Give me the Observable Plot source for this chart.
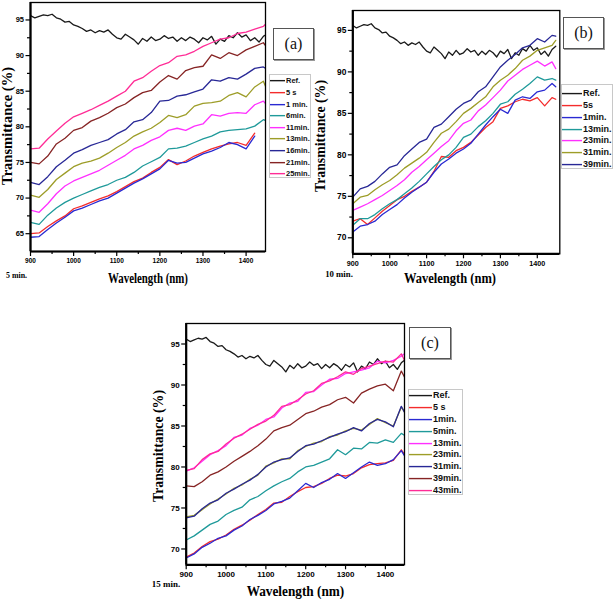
<!DOCTYPE html>
<html><head><meta charset="utf-8">
<script src="https://cdn.jsdelivr.net/npm/d3@7"></script>
<script src="https://cdn.jsdelivr.net/npm/@observablehq/plot@0.6"></script>
<style>
body{margin:0;background:#fff;}
#root{position:relative;width:614px;height:599px;overflow:hidden;background:#fff;}
.panel{position:absolute;}
.legend{position:absolute;background:#fff;border:1px solid #c8c8c8;box-sizing:border-box;font-family:"Liberation Sans",Arial,sans-serif;font-weight:bold;color:#111;}
.legend .row{position:absolute;left:0;white-space:nowrap;}
.tag{position:absolute;background:#fff;border:1px solid #555;box-shadow:1px 1px 0 #999;box-sizing:border-box;font-family:"Liberation Serif","Times New Roman",serif;font-size:16px;display:flex;align-items:center;justify-content:center;color:#111;}
#over{position:absolute;left:0;top:0;pointer-events:none;}
</style></head>
<body><div id="root"></div>
<script>
// ---------- data ----------
const wl = [900,920,940,960,980,1000,1020,1040,1060,1080,1100,1120,1140,1160,1180,1200,1220,1240,1260,1280,1300,1320,1340,1360,1380,1400,1420,1440,1450];
const refWl = [900,910,920,930,940,950,960,970,980,990,1000,1010,1020,1030,1040,1050,1060,1070,1080,1090,1100,1110,1120,1130,1140,1150,1160,1170,1180,1190,1200,1210,1220,1230,1240,1250,1260,1270,1280,1290,1300,1310,1320,1330,1340,1350,1360,1370,1380,1390,1400,1410,1420,1430,1440,1450];
const refT = [95.6,95.3,95.5,95.7,95.6,95.8,95.3,95.1,94.7,94.8,94.3,94.1,93.8,93.4,93.6,93.2,93.5,93.3,93.6,93.0,92.5,92.3,93.0,92.6,92.2,91.6,92.4,92.0,92.6,92.1,92.3,92.8,92.4,92.6,92.0,92.5,92.1,92.6,92.3,91.8,92.5,92.2,92.7,91.6,92.3,92.0,92.8,92.5,93.2,92.6,92.9,92.1,92.5,91.9,92.7,93.1];

// panel (a) — 5 min.
const aLabels = ["Ref.","5 s","1 min.","6min.","11min.","13min.","16min.","21min.","25min."];
const a5s = [65.0,65.1,66.0,66.8,67.5,68.5,68.9,69.4,69.9,70.3,70.9,71.6,72.3,72.8,73.6,74.3,75.4,74.7,75.2,75.9,76.4,76.9,77.3,77.6,77.8,77.4,79.1,null,null];
const a1m = [64.5,64.6,65.6,66.5,67.3,68.2,68.6,69.1,69.6,70.0,70.7,71.4,72.1,72.7,73.4,74.1,75.3,74.9,75.0,75.6,76.2,76.6,77.1,77.8,77.5,76.9,78.7,null,null];
const a6m = [66.6,66.3,67.6,68.6,69.4,70.0,70.5,71.0,71.5,71.9,72.5,72.9,73.6,74.5,75.1,75.7,76.9,77.0,77.3,77.8,78.3,78.7,79.3,79.5,79.6,79.7,80.1,81.0,80.8];
const a11m = [68.3,68.0,69.2,70.6,71.7,72.4,72.9,73.4,73.9,74.6,75.3,76.0,76.9,77.4,78.1,78.6,79.5,79.8,79.5,80.1,80.4,81.7,81.5,81.9,82.0,81.9,83.1,83.6,82.9];
const a13m = [70.4,70.1,71.2,72.6,73.5,74.4,74.9,75.2,75.6,76.3,77.1,77.8,78.7,79.3,79.8,80.6,81.6,81.3,81.7,82.9,83.3,83.4,83.6,84.4,84.8,84.2,85.6,86.4,85.0];
const a16m = [72.2,71.9,73.0,74.4,75.3,76.3,76.8,77.4,77.8,78.2,79.0,79.6,80.7,81.0,82.0,83.6,83.7,84.3,84.5,84.9,85.3,86.6,86.4,86.9,86.7,87.4,88.2,88.4,88.0];
const a21m = [75.0,74.8,75.9,77.6,78.4,79.5,79.9,80.8,81.3,81.9,82.7,83.2,84.1,84.8,85.1,86.3,87.2,86.7,87.9,88.3,88.5,90.1,89.6,90.4,90.0,90.8,91.3,91.8,91.0];
const a25m = [76.9,77.0,78.3,79.4,80.5,81.4,81.9,82.4,83.0,83.6,84.3,85.0,86.4,86.9,87.8,88.6,89.0,89.9,90.1,90.6,91.3,91.8,92.3,92.5,93.1,93.3,93.7,94.1,94.7];

// panel (b) — 10 min.
const bLabels = ["Ref.","5s","1min.","13min.","23min.","31min.","39min."];
const b5s = [72.0,72.3,71.6,72.4,73.2,73.9,74.6,75.0,75.6,76.1,76.7,78.0,79.8,79.7,80.5,80.9,81.5,82.4,83.3,84.0,85.6,85.9,86.4,86.7,86.5,86.9,85.9,86.9,86.7];
const b1m = [70.7,71.4,71.6,72.0,72.8,73.4,74.0,74.8,75.5,76.1,76.7,77.9,78.9,79.5,80.2,80.7,81.4,82.5,83.6,84.6,85.5,85.0,86.6,87.0,86.8,87.6,87.8,88.6,88.2];
const b13m = [71.5,72.3,72.3,72.8,73.5,74.1,74.6,75.3,76.0,76.8,77.7,78.6,79.4,80.0,80.9,82.1,82.5,83.4,84.1,85.0,86.1,86.4,87.3,87.9,88.6,89.4,89.0,89.2,89.0];
const b23m = [73.3,73.7,74.1,74.6,75.1,75.7,76.3,77.0,77.9,78.6,79.4,80.2,81.0,81.7,82.9,83.8,84.2,85.3,86.0,86.9,87.8,88.9,89.6,90.3,90.8,91.3,90.7,91.2,90.4];
const b31m = [74.1,74.9,75.1,75.8,76.4,76.9,77.6,78.4,79.0,79.6,80.3,81.5,82.6,83.1,84.0,85.0,85.6,86.3,87.0,88.2,89.0,89.6,90.4,91.4,91.9,92.6,92.9,93.2,93.8];
const b39m = [74.9,75.9,76.2,76.8,77.7,78.5,78.8,79.9,80.7,81.5,81.9,83.3,83.7,84.6,85.5,86.2,86.6,87.6,88.2,89.4,90.6,91.4,92.1,92.9,93.2,94.0,93.6,94.4,94.3];

// panel (c) — 15 min.
const cLabels = ["Ref.","5 s","1min.","5min.","13min.","23min.","31min.","39min.","43min."];
const c5s = [69.0,69.5,70.3,70.9,71.2,71.7,72.4,72.9,73.5,74.2,74.8,75.6,75.7,76.4,77.0,77.5,77.6,78.0,78.6,79.0,78.9,79.2,79.9,80.3,80.4,80.5,80.8,82.1,81.4];
const c1m = [68.9,69.4,70.2,70.7,71.3,71.6,72.3,72.8,73.6,74.1,74.7,75.5,75.8,76.2,77.1,78.0,77.5,78.1,78.5,79.2,78.6,79.3,80.0,80.6,80.2,80.4,80.9,82.0,81.2];
const c5m = [71.1,71.6,72.3,73.0,73.4,74.2,74.7,75.1,76.0,76.4,77.1,77.7,78.2,78.6,79.4,80.0,80.2,80.6,81.0,82.1,81.5,82.3,82.2,83.0,82.9,83.3,83.0,84.1,83.8];
const c13m = [79.5,79.9,80.7,81.5,82.0,82.6,83.6,83.9,84.7,85.1,85.8,86.1,87.2,87.8,88.0,89.1,89.2,90.0,90.7,90.8,91.4,91.6,91.8,92.1,92.9,92.7,93.0,93.5,93.9];
const c23m = [73.9,74.1,74.8,75.5,76.1,76.7,77.4,77.8,78.5,79.0,80.1,80.5,81.0,81.0,82.0,82.5,82.9,83.1,83.7,83.9,84.4,84.7,84.5,85.2,85.9,85.4,85.0,87.3,86.6];
const c31m = [73.8,74.0,74.9,75.6,76.0,76.8,77.3,77.9,78.4,79.1,80.0,80.6,80.9,81.1,81.9,82.6,82.8,83.2,83.6,84.0,84.3,84.8,84.4,85.3,85.8,85.5,84.9,87.4,86.5];
const c39m = [77.7,77.6,78.2,79.0,79.4,80.0,80.7,81.3,81.9,82.6,83.4,84.4,84.8,85.1,85.8,86.5,86.8,87.3,87.6,88.2,88.5,87.8,89.0,89.5,89.9,90.1,89.3,91.7,90.8];
const c43m = [79.6,79.8,80.9,81.6,81.9,82.8,83.5,84.0,84.6,85.2,85.6,86.3,87.4,87.6,88.2,88.9,89.3,90.2,90.5,91.0,91.6,91.3,92.0,92.3,92.6,92.9,92.8,93.8,92.8];

const xTicks = [900,1000,1100,1200,1300,1400];
const xMinor = [950,1050,1150,1250,1350];

// ---------- styles ----------
const C = {ref:"#1a1a1a", red:"#f42c2c", blue:"#2a2ad2", teal:"#1f9a9a", magenta:"#ff30ff", olive:"#9d9d28", navy:"#282896", wine:"#862424", pink:"#ff2c96"};
const LW = 1.3;

const panels = [
  {left:0, top:0, width:268, height:272, ml:30, mr:3, mt:2, mb:21,
   xDomain:[900,1445], yDomain:[62.5,97.45], yTicks:[65,70,75,80,85,90,95], yMinor:[67.5,72.5,77.5,82.5,87.5,92.5],
   xFont:6.5, yFont:7.5, labels:aLabels,
   series:[a5s,a1m,a6m,a11m,a13m,a16m,a21m,a25m],
   colors:[C.ref,C.red,C.blue,C.teal,C.magenta,C.olive,C.navy,C.wine,C.pink],
   legend:{x:269,y:74,w:42,h:104,row0:80,step:11.6,sw:15,font:7.5},
   tag:{x:273,y:28,w:41,h:32,t:"(a)"},
   ytitle:{x:7,y:126,len:118}, xtitle:{x:148,y:278,len:80}, note:{x:16.5,y:275,len:21,t:"5 min."}},
  {left:320, top:0, width:245, height:272, ml:32.3, mr:5.7, mt:10, mb:18.7,
   xDomain:[900,1461], yDomain:[68.07,97.4], yTicks:[70,75,80,85,90,95], yMinor:[72.5,77.5,82.5,87.5,92.5],
   xFont:7.2, yFont:8.4, labels:bLabels,
   series:[b5s,b1m,b13m,b23m,b31m,b39m],
   colors:[C.ref,C.red,C.blue,C.teal,C.magenta,C.olive,C.navy],
   legend:{x:561,y:84,w:52,h:85,row0:92.7,step:11.8,sw:20,font:9},
   tag:{x:563,y:17,w:41,h:32,t:"(b)"},
   ytitle:{x:320.5,y:136,len:112}, xtitle:{x:450,y:278,len:92}, note:{x:339,y:274.3,len:27.7,t:"10 min."}},
  {left:150, top:300, width:260, height:285, ml:35.7, mr:6, mt:23, mb:20.7,
   xDomain:[900,1448], yDomain:[68.07,97.5], yTicks:[70,75,80,85,90,95], yMinor:[72.5,77.5,82.5,87.5,92.5],
   xFont:8, yFont:8, labels:cLabels,
   series:[c5s,c1m,c5m,c13m,c23m,c31m,c39m,c43m],
   colors:[C.ref,C.red,C.blue,C.teal,C.magenta,C.olive,C.navy,C.wine,C.pink],
   legend:{x:408,y:389,w:55,h:106,row0:395,step:11.8,sw:23,font:9},
   tag:{x:409,y:327,w:42,h:32,t:"(c)"},
   ytitle:{x:158,y:446,len:112}, xtitle:{x:295.5,y:591,len:97.6}, note:{x:166,y:584,len:28.3,t:"15 min."}}
];

const root = d3.select("#root");

panels.forEach(p => {
  const rows = [];
  p.series.forEach((s, i) => {
    s.forEach((v, j) => rows.push({wl: wl[j], t: v, s: p.labels[i + 1]}));
  });
  const refRows = refWl.map((w, j) => ({wl: w, t: refT[j]}));
  const chart = Plot.plot({
    width: p.width, height: p.height,
    marginLeft: p.ml, marginRight: p.mr, marginTop: p.mt, marginBottom: p.mb,
    style: {fontFamily: "'Liberation Sans', Arial, sans-serif", fontWeight: "bold", background: "transparent", overflow: "visible", color: "#000"},
    x: {domain: p.xDomain},
    y: {domain: p.yDomain},
    color: {domain: p.labels.slice(1), range: p.colors.slice(1)},
    marks: [
      Plot.line(refRows, {x: "wl", y: "t", stroke: C.ref, strokeWidth: LW, clip: true}),
      Plot.line(rows, {x: "wl", y: "t", z: "s", stroke: "s", strokeWidth: LW, clip: true}),
      Plot.frame({stroke: "#000", strokeWidth: 1.3}),
      Plot.ruleX([p.xDomain[0]], {stroke: "#000", strokeWidth: 2.2}),
      Plot.ruleY([p.yDomain[0]], {stroke: "#000", strokeWidth: 2.2}),
      Plot.axisX({ticks: xTicks, tickSize: 5, tickPadding: 2, label: null, fontSize: p.xFont, tickFormat: d => String(d), strokeWidth: 1.2}),
      Plot.axisX({ticks: xMinor, tickSize: 3, label: null, tickFormat: () => "", strokeWidth: 1.2}),
      Plot.axisY({ticks: p.yTicks, tickSize: 4.5, tickPadding: 2, label: null, fontSize: p.yFont, tickFormat: d => String(d), strokeWidth: 1.2}),
      Plot.axisY({ticks: p.yMinor, tickSize: 3, label: null, tickFormat: () => "", strokeWidth: 1.2})
    ]
  });
  const div = root.append("div").attr("class", "panel")
    .style("left", p.left + "px").style("top", p.top + "px");
  div.node().appendChild(chart);

  // legend
  const L = p.legend;
  const lg = root.append("div").attr("class", "legend")
    .style("left", L.x + "px").style("top", L.y + "px")
    .style("width", L.w + "px").style("height", L.h + "px")
    .style("font-size", L.font + "px");
  p.labels.forEach((lab, i) => {
    const cy = L.row0 + i * L.step - L.y;
    const r = lg.append("div").attr("class", "row")
      .style("top", (cy - L.font * 0.62) + "px").style("height", (L.font * 1.2) + "px");
    const sv = r.append("svg").attr("width", L.sw + 1).attr("height", L.font * 1.2)
      .style("vertical-align", "top");
    sv.append("line").attr("x1", 0).attr("x2", L.sw).attr("y1", L.font * 0.62).attr("y2", L.font * 0.62)
      .attr("stroke", p.colors[i]).attr("stroke-width", 1.4);
    r.append("span").text(lab).style("line-height", (L.font * 1.2) + "px").style("vertical-align", "top");
  });

  // tag box
  const T = p.tag;
  root.append("div").attr("class", "tag")
    .style("left", T.x + "px").style("top", T.y + "px")
    .style("width", T.w + "px").style("height", T.h + "px").text(T.t);
});

// titles overlay
const over = root.append("svg").attr("id", "over").attr("width", 614).attr("height", 599);
const serif = "'Liberation Serif','Times New Roman',serif";
panels.forEach(p => {
  over.append("text").attr("transform", `translate(${p.ytitle.x},${p.ytitle.y}) rotate(-90)`)
    .attr("text-anchor", "middle").attr("dominant-baseline", "central")
    .attr("font-family", serif).attr("font-weight", "bold").attr("font-size", 14)
    .attr("textLength", p.ytitle.len).attr("lengthAdjust", "spacingAndGlyphs")
    .text("Transmittance (%)");
  over.append("text").attr("x", p.xtitle.x).attr("y", p.xtitle.y)
    .attr("text-anchor", "middle").attr("dominant-baseline", "central")
    .attr("font-family", serif).attr("font-weight", "bold").attr("font-size", 14)
    .attr("textLength", p.xtitle.len).attr("lengthAdjust", "spacingAndGlyphs")
    .text("Wavelength (nm)");
  over.append("text").attr("x", p.note.x).attr("y", p.note.y)
    .attr("text-anchor", "middle").attr("dominant-baseline", "central")
    .attr("font-family", serif).attr("font-weight", "bold").attr("font-size", 9)
    .attr("textLength", p.note.len).attr("lengthAdjust", "spacingAndGlyphs")
    .text(p.note.t);
});
</script>
</body></html>
